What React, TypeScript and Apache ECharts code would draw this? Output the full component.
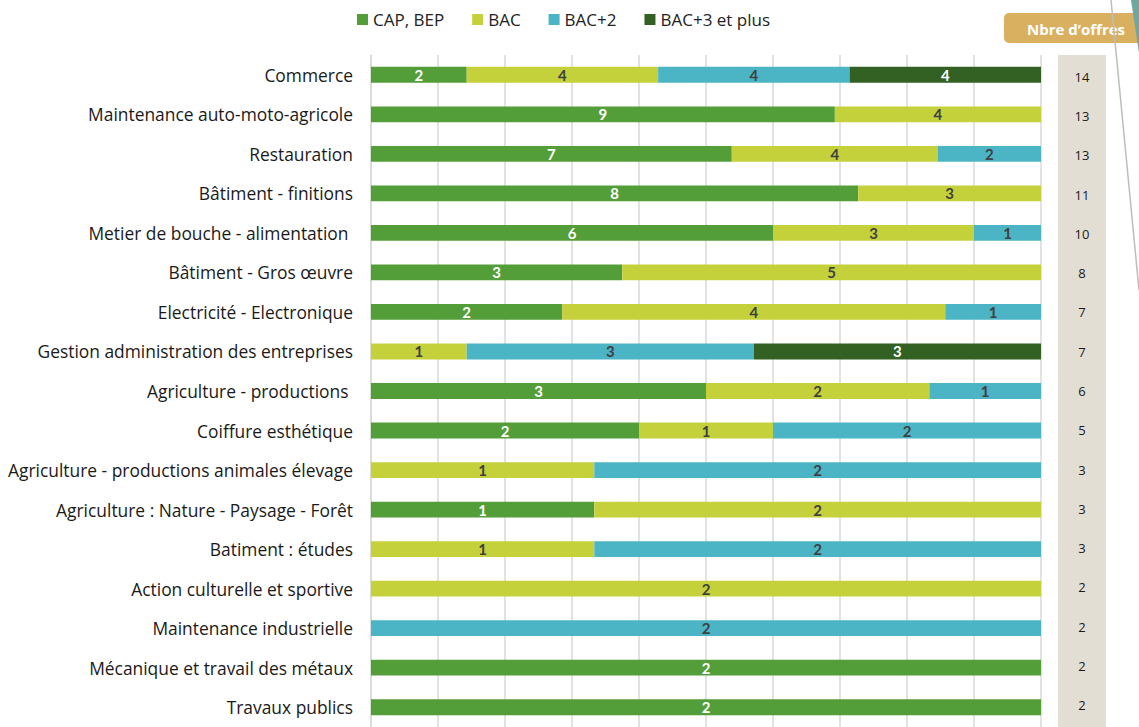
import React, { useEffect, useRef } from "react";
import * as echarts from "echarts";

const categories = [
  "Commerce",
  "Maintenance auto-moto-agricole",
  "Restauration",
  "Bâtiment - finitions",
  "Metier de bouche - alimentation ",
  "Bâtiment - Gros œuvre",
  "Electricité - Electronique",
  "Gestion administration des entreprises",
  "Agriculture - productions ",
  "Coiffure esthétique",
  "Agriculture - productions animales élevage",
  "Agriculture : Nature - Paysage - Forêt",
  "Batiment : études",
  "Action culturelle et sportive",
  "Maintenance industrielle",
  "Mécanique et travail des métaux",
  "Travaux publics",
];

const capBep = [2, 9, 7, 8, 6, 3, 2, 0, 3, 2, 0, 1, 0, 0, 0, 2, 2];
const bac = [4, 4, 4, 3, 3, 5, 4, 1, 2, 1, 1, 2, 1, 2, 0, 0, 0];
const bac2 = [4, 0, 2, 0, 1, 0, 1, 3, 1, 2, 2, 0, 2, 0, 2, 0, 0];
const bac3 = [4, 0, 0, 0, 0, 0, 0, 3, 0, 0, 0, 0, 0, 0, 0, 0, 0];

const seriesNames = ["CAP, BEP", "BAC", "BAC+2", "BAC+3 et plus"];
const seriesData = [capBep, bac, bac2, bac3];
const seriesColors = ["#549E39", "#C5D13B", "#4BB4C5", "#336023"];
const labelColors = ["#ffffff", "#404040", "#404040", "#ffffff"];

const totals = categories.map((_, i) => seriesData.reduce((s, arr) => s + arr[i], 0));

export default function App() {
  const ref = useRef<HTMLDivElement>(null);
  useEffect(() => {
    if (!ref.current) return;
    const chart = echarts.init(ref.current, null, { renderer: "svg" });
    const font = "'Open Sans', 'Noto Sans', sans-serif";
    const lato = "Lato, 'Open Sans', sans-serif";
    chart.setOption({
      animation: false,
      textStyle: { fontFamily: font },
      legend: {
        top: 6,
        left: 352,
        itemWidth: 11,
        itemHeight: 11,
        itemGap: 28,
        icon: "rect",
        textStyle: { fontSize: 17, color: "#222", fontFamily: font },
        data: seriesNames,
      },
      graphic: [
        {
          type: "rect",
          shape: { x: 1058, y: 55, width: 48, height: 680 },
          style: { fill: "#E3DED3" },
          z: -10,
        },
        {
          type: "rect",
          shape: { x: 1004, y: 13, width: 145, height: 30, r: 5 },
          style: { fill: "#D9B060" },
        },
        {
          type: "text",
          x: 1076,
          y: 29,
          style: {
            text: "Nbre d’offres",
            fill: "#ffffff",
            font: "bold 15px 'Open Sans', sans-serif",
            align: "center",
            verticalAlign: "middle",
          },
        },
        {
          type: "line",
          shape: { x1: 1111, y1: 0, x2: 1139, y2: 290 },
          style: { stroke: "#BDBDBD", lineWidth: 1.5 },
        },
        {
          type: "polygon",
          shape: { points: [[1131, 0], [1139, 0], [1139, 53]] },
          style: { fill: "#6FA69E" },
        },
      ],
      grid: [
        { left: 371, top: 55, width: 670, height: 677, containLabel: false },
        { left: 1058, top: 57, width: 48, height: 668, containLabel: false },
      ],
      xAxis: [
        {
          gridIndex: 0,
          type: "value",
          min: 0,
          max: 100,
          interval: 10,
          axisLabel: { show: false },
          axisLine: { show: false },
          axisTick: { show: false },
          splitLine: { show: true, lineStyle: { color: "#D9D9D9", width: 1.5 } },
        },
        {
          gridIndex: 1,
          type: "value",
          show: false,
        },
      ],
      yAxis: [
        {
          gridIndex: 0,
          type: "category",
          inverse: true,
          data: categories,
          axisLine: { show: true, lineStyle: { color: "#D9D9D9", width: 1.5 } },
          axisTick: { show: false },
          axisLabel: { fontSize: 17.4, color: "#1a1a1a", margin: 18, fontFamily: font },
        },
        {
          gridIndex: 1,
          type: "category",
          inverse: true,
          position: "right",
          data: totals.map(String),
          axisLine: { show: false },
          axisTick: { show: false },
          axisLabel: { fontSize: 13, color: "#1a1a1a", margin: -24, align: "center", fontFamily: font },
        },
      ],
      series: seriesData.map((arr, si) => ({
        name: seriesNames[si],
        type: "bar",
        stack: "total",
        xAxisIndex: 0,
        yAxisIndex: 0,
        barCategoryGap: "60%",
        itemStyle: { color: seriesColors[si] },
        label: {
          show: true,
          position: "inside",
          color: labelColors[si],
          fontWeight: "bold",
          fontSize: 15,
          fontFamily: lato,
          formatter: (p: any) => String(arr[p.dataIndex]),
        },
        data: arr.map((v, i) => (v === 0 ? null : (v / totals[i]) * 100)),
      })),
    });
    return () => chart.dispose();
  }, []);
  return <div ref={ref} style={{ width: 1139, height: 727, position: "absolute", left: 0, top: 0 }} />;
}
